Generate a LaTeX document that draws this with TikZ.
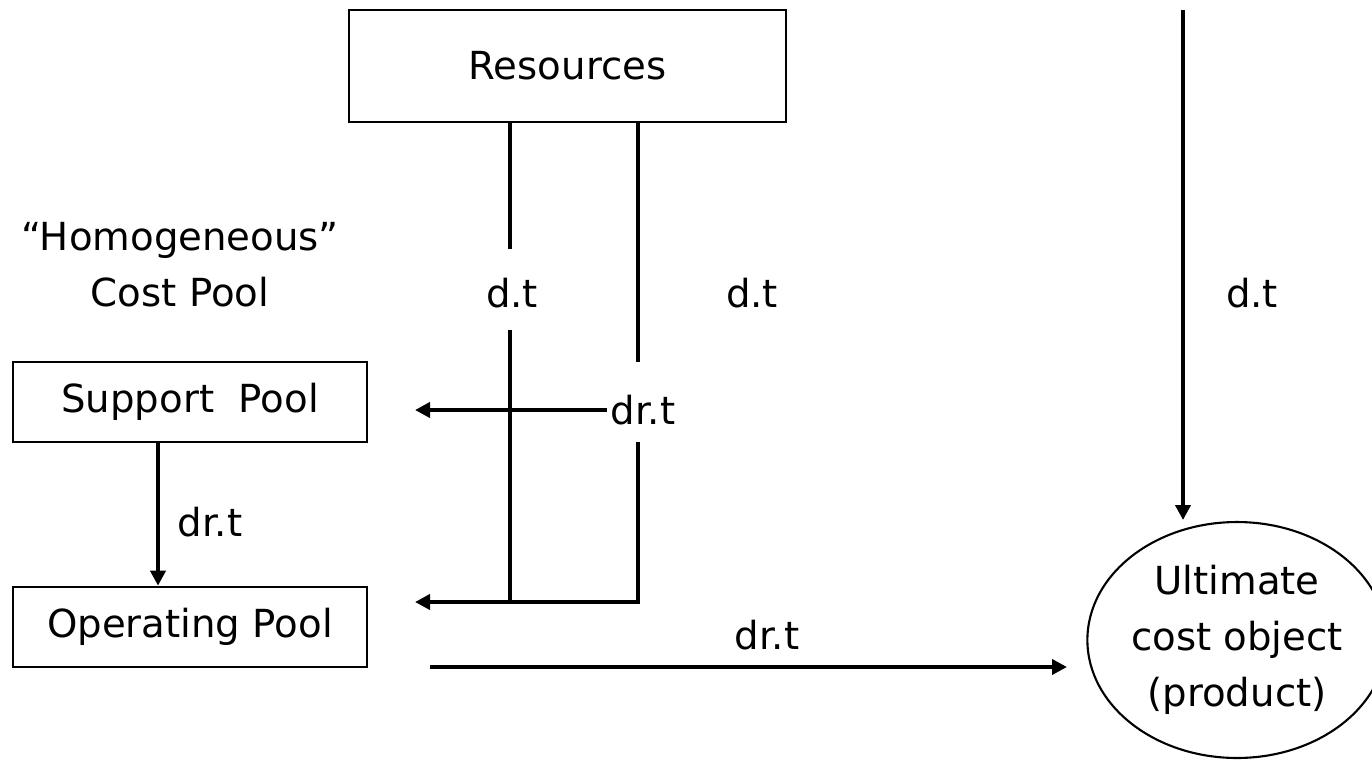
\documentclass[tikz,border=0pt]{standalone}
\usepackage{fontspec}
\setmainfont{DejaVu Sans}
\usetikzlibrary{arrows.meta, shapes.geometric, positioning}
\tikzset{pool/.style = {draw, line width=1.5pt, rectangle, minimum width=7.08cm, minimum height=1.6cm, inner sep=0pt}}
\tikzset{flow/.style = {line width=2.2pt}}
\tikzset{flow arrow/.style = {flow, -{Triangle[length=0.3cm, width=0.3cm]}}}
\tikzset{tag/.style = {inner sep=2pt}}

\begin{document}
\begin{tikzpicture}[x=0.02cm, y=-0.02cm, font=\fontsize{22}{32}\selectfont]
	\useasboundingbox (0,0) rectangle (1372,761);

	\node[pool, minimum width=8.74cm, minimum height=2.24cm] (res) at (567.5,66) {Resources};
	\node[pool] (sup) at (190,402) {Support\ \ Pool};
	\node[pool] (op) at (190,627) {Operating Pool};
	\node[draw, ellipse, line width=1.2pt, minimum width=5.4cm, minimum height=4.72cm, inner sep=0pt, align=center] (obj) at (1237,640) {Ultimate\\cost object\\(product)};

	\node[align=center] (hom) at (180,265) {“Homogeneous”\\Cost Pool};
	\node[tag] (dt1) at (512,293) {d.t};
	\node[tag] (dt2) at (752,293) {d.t};
	\node[tag] (dt3) at (1252,293) {d.t};
	\node[tag] (drt1) at (210,522) {dr.t};
	\node[tag] (drt2) at (643,410) {dr.t};
	\node[tag] (drt3) at (767,635) {dr.t};

	\coordinate (p1) at (510,249);
	\coordinate (p2) at (510,330);
	\coordinate (q1) at (638,362);
	\coordinate (q2) at (638,442);
	\coordinate (jn) at (638,602);
	\coordinate (tipsup) at (415,410);
	\coordinate (tipop) at (415,602);
	\coordinate (s) at (158,0);
	\coordinate (top) at (1183,10);
	\coordinate (tipobj) at (1183,520);
	\coordinate (tailop) at (430,667);
	\coordinate (headobj) at (1067,667);

	\draw[flow]		(res.south -| p1) -- (p1);
	\draw[flow]		(p2) -- (p2 |- jn);
	\draw[flow]		(res.south -| q1) -- (q1);
	\draw[flow arrow]	(q2) -- (jn) -- (tipop);
	\draw[flow arrow]	(drt2.west) -- (tipsup);
	\draw[flow arrow]	(sup.south -| s) -- (op.north -| s);
	\draw[flow arrow]	(top) -- (tipobj);
	\draw[flow arrow]	(tailop) -- (headobj);
\end{tikzpicture}
\end{document}
